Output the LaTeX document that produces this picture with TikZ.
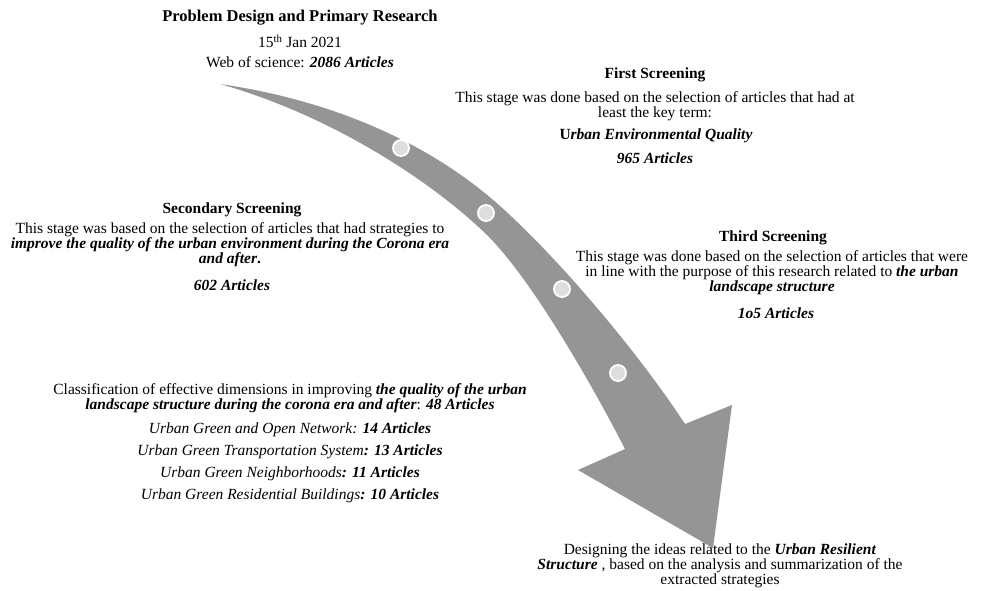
\documentclass[tikz,border=0pt]{standalone}
\usepackage{fontspec}
\setmainfont{Liberation Serif}
\definecolor{arrowgray}{HTML}{959595}
\definecolor{dotgray}{HTML}{DEDEDE}
\begin{document}
\begin{tikzpicture}[x=1pt,y=-1pt,
  txt/.style={inner sep=0pt,align=center,font=\fontsize{15.5}{15}\selectfont},
  hdr/.style={txt,font=\fontsize{15.5}{15}\selectfont\bfseries},
  dot/.style={circle,fill=dotgray,draw=white,line width=1.8pt,minimum size=16pt,inner sep=0pt}]
\useasboundingbox (0,0) rectangle (983,590);
% arrow
\fill[arrowgray] (220,84) .. controls (330,100) and (420,140) .. (486,194)
  .. controls (540,238) and (630,340) .. (685,424)
  -- (732,405) -- (713,548) -- (578,470) -- (625,449)
  .. controls (600,400) and (535,282) .. (486,234)
  .. controls (430,180) and (330,115) .. (220,84) -- cycle;
\node[dot] (d1) at (401,148) {};
\node[dot] (d2) at (486,213) {};
\node[dot] (d3) at (562,289) {};
\node[dot] (d4) at (618,373) {};
% title
\node[hdr,font=\fontsize{16.5}{15}\selectfont\bfseries] (t1) at (300,18) {Problem Design and Primary Research};
\node[txt] (t2) at (300,41) {15\textsuperscript{th} Jan 2021};
\node[txt] (t3) at (300,62) {Web of science: \textbf{\textit{2086 Articles}}};
% first
\node[hdr] (f1) at (655,75) {First Screening};
\node[txt] (f2) at (655,106.5) {This stage was done based on the selection of articles that had at\\least the key term:};
\node[txt] (f3) at (656,136) {\textbf{U\textit{rban Environmental Quality}}};
\node[txt] (f4) at (655,158) {\textbf{\textit{965 Articles}}};
% secondary
\node[hdr] (s1) at (232,210) {Secondary Screening};
\node[txt] (s2) at (230,245) {This stage was based on the selection of articles that had strategies to\\\textbf{\textit{improve the quality of the urban environment during the Corona era}}\\\textbf{\textit{and after}.}};
\node[txt] (s3) at (232,285) {\textbf{\textit{602 Articles}}};
% third
\node[hdr] (h1) at (773,238) {Third Screening};
\node[txt] (h2) at (772,273) {This stage was done based on the selection of articles that were\\in line with the purpose of this research related to \textbf{\textit{the urban}}\\\textbf{\textit{landscape structure}}};
\node[txt] (h3) at (776,313) {\textbf{\textit{1o5 Articles}}};
% classification
\node[txt] (c1) at (290,398.5) {Classification of effective dimensions in improving \textbf{\textit{the quality of the urban}}\\\textbf{\textit{landscape structure during the corona era and after}}: \textbf{\textit{48 Articles}}};
\node[txt] (c2) at (290,430) {\textit{Urban Green and Open Network: \textbf{14 Articles}}};
\node[txt] (c3) at (290,452) {\textit{Urban Green Transportation System\textbf{: 13 Articles}}};
\node[txt] (c4) at (290,474) {\textit{Urban Green Neighborhoods\textbf{: 11 Articles}}};
\node[txt] (c5) at (290,496) {\textit{Urban Green Residential Buildings\textbf{: 10 Articles}}};
% designing
\node[txt] (g1) at (720,566) {Designing the ideas related to the \textbf{\textit{Urban Resilient}}\\\textbf{\textit{Structure}} , based on the analysis and summarization of the\\extracted strategies};
\end{tikzpicture}
\end{document}
